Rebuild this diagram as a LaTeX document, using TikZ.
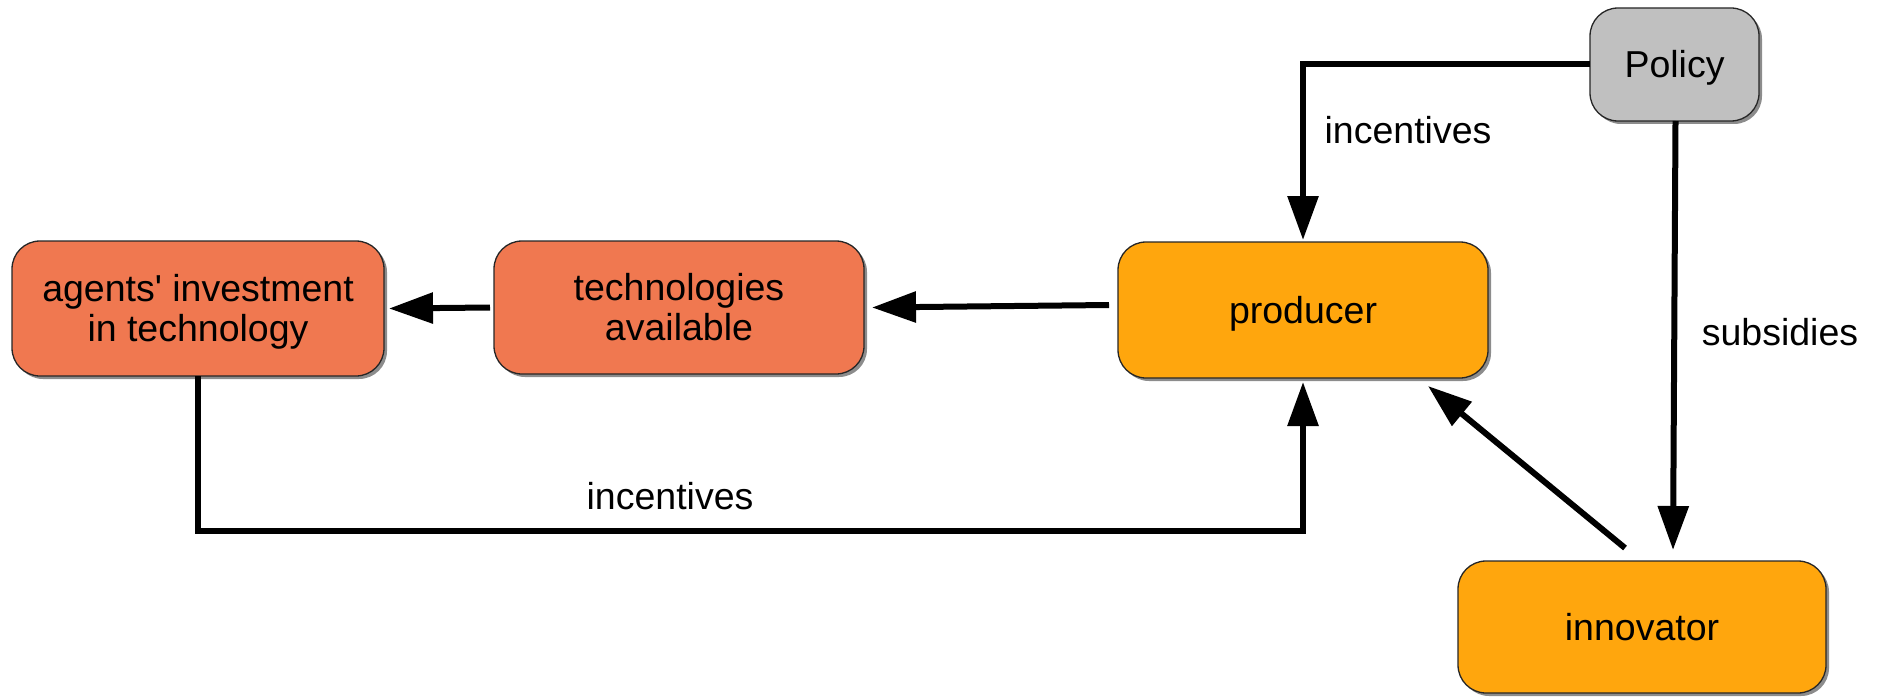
\documentclass[tikz,border=0pt]{standalone}
\usepackage{fontspec}
\setmainfont{Liberation Sans}
\usetikzlibrary{arrows.meta,shadows}
\definecolor{redbox}{RGB}{240,120,80}
\definecolor{orangebox}{RGB}{255,166,13}
\definecolor{graybox}{RGB}{192,192,192}
\newcommand{\lowtext}[1]{\raisebox{-5pt}[\height][\depth]{\begin{tabular}{@{}c@{}}#1\end{tabular}}}
\begin{document}
\begin{tikzpicture}[x=1pt,y=-1pt,
  boxst/.style={rectangle, rounded corners=28pt, draw=black!85, line width=1.3pt,
    inner sep=0pt, outer sep=0pt, align=center,
    font=\fontsize{37.5}{40}\selectfont,
    drop shadow={shadow xshift=3pt, shadow yshift=-3pt, fill=black!45, opacity=1}},
  conn/.style={line width=6pt, -{Triangle[length=44pt,width=30pt]}},
  lbl/.style={font=\fontsize{37.5}{40}\selectfont, inner sep=0pt}]
\useasboundingbox (0,0) rectangle (1881,698);
\node[boxst, fill=redbox, minimum width=372pt, minimum height=135pt] (agents) at (198,308.5) {\lowtext{agents\textquotesingle{} investment\\in technology}};
\node[boxst, fill=redbox, minimum width=370pt, minimum height=133pt] (tech) at (679,307.5) {\lowtext{technologies\\available}};
\node[boxst, fill=orangebox, minimum width=370pt, minimum height=136pt] (producer) at (1303,310) {\lowtext{producer}};
\node[boxst, fill=graybox, minimum width=169pt, minimum height=113pt] (policy) at (1674.5,64.5) {\lowtext{Policy}};
\node[boxst, fill=orangebox, minimum width=368pt, minimum height=132pt] (innovator) at (1642,627) {\lowtext{innovator}};
\coordinate (loopA) at (750,531);
\draw[conn] ([xshift=-4pt]tech.west) -- ([xshift=5pt]agents.east);
\draw[conn] ([xshift=-9pt,yshift=5pt]producer.west) -- ([xshift=8pt]tech.east);
\draw[conn] (agents.south) |- (loopA) -| ([yshift=-4pt]producer.south);
\draw[conn] (policy.west) -| ([yshift=2pt]producer.north);
\draw[conn] ([xshift=1pt]policy.south) -- ([xshift=31pt,yshift=11pt]innovator.north);
\draw[conn] ([xshift=-17pt,yshift=13pt]innovator.north) -- ([xshift=-60pt,yshift=-8pt]producer.south east);
\node[lbl] (l1) at (1408,130) {incentives};
\node[lbl] (l2) at (1780,332) {subsidies};
\node[lbl] (l3) at (670,496) {incentives};
\end{tikzpicture}
\end{document}
